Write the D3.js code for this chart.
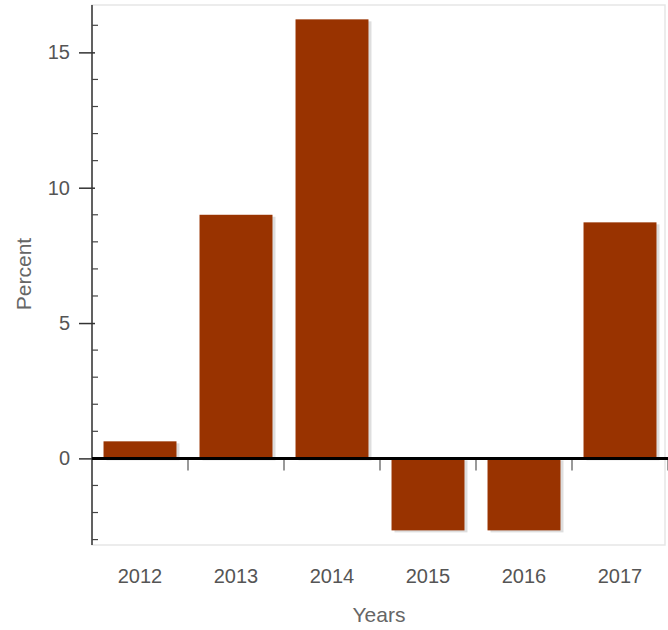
<!DOCTYPE html>
<html>
<head>
<meta charset="utf-8">
<script src="https://cdn.jsdelivr.net/npm/d3@7"></script>
<style>
  html, body { margin: 0; padding: 0; background: #fff; }
  svg { display: block; font-family: "Liberation Sans", Arial, sans-serif; }
</style>
</head>
<body>
<svg id="chart" width="668" height="630"></svg>
<script>
const years = ["2012", "2013", "2014", "2015", "2016", "2017"];
const percent = [0.63, 9.0, 16.22, -2.66, -2.66, 8.72];
const yMajorTicks = [0, 5, 10, 15];
const yMinorTicks = [-3, -2, -1, 1, 2, 3, 4, 6, 7, 8, 9, 11, 12, 13, 14, 16];

(function () {
const svg = d3.select("#chart");
const pLeft = 92, pRight = 668, pTop = 5, pBottom = 545;

const x = d3.scaleBand().domain(years).range([pLeft, pRight]).paddingInner(0.24).paddingOuter(0.12);
const y = d3.scaleLinear().domain([-3.2, 16.75]).range([pBottom, pTop]);

// plot border
svg.append("rect")
  .attr("x", pLeft).attr("y", pTop)
  .attr("width", pRight - pLeft - 3).attr("height", pBottom - pTop)
  .attr("fill", "none").attr("stroke", "#e6e6e6").attr("stroke-width", 1.5);

// bar shadows
svg.append("g").selectAll("rect").data(years).join("rect")
  .attr("x", d => x(d) + 3)
  .attr("y", (d, i) => Math.min(y(percent[i]), y(0)) + 2)
  .attr("width", x.bandwidth())
  .attr("height", (d, i) => Math.abs(y(percent[i]) - y(0)))
  .attr("fill", "#d0d0d0").attr("opacity", 0.7);

// bars
svg.append("g").selectAll("rect").data(years).join("rect")
  .attr("x", d => x(d))
  .attr("y", (d, i) => Math.min(y(percent[i]), y(0)))
  .attr("width", x.bandwidth())
  .attr("height", (d, i) => Math.abs(y(percent[i]) - y(0)))
  .attr("fill", "#993300");

// y axis
const yAxis = d3.axisLeft(y).tickValues(yMajorTicks).tickSize(13).tickPadding(9);
const gy = svg.append("g").attr("transform", `translate(${pLeft},0)`).call(yAxis);
gy.select(".domain").remove();
gy.selectAll(".tick line").attr("stroke", "#333").attr("stroke-width", 1.5).attr("x2", -13).attr("x1", 3);
gy.selectAll(".tick text").attr("fill", "#555").attr("font-size", 20).attr("font-family", "Liberation Sans, Arial, sans-serif");
svg.append("line").attr("x1", pLeft).attr("x2", pLeft).attr("y1", pTop).attr("y2", pBottom)
  .attr("stroke", "#333").attr("stroke-width", 1.5);

// minor ticks
svg.append("g").selectAll("line").data(yMinorTicks).join("line")
  .attr("x1", pLeft).attr("x2", pLeft + 6)
  .attr("y1", d => y(d)).attr("y2", d => y(d))
  .attr("stroke", "#444").attr("stroke-width", 1.2);

// x axis band boundary ticks
const bounds = years.map(d => x(d) + x.bandwidth() + x.step() * x.paddingInner() / 2);
svg.append("g").selectAll("line").data(bounds).join("line")
  .attr("x1", d => d).attr("x2", d => d)
  .attr("y1", y(0)).attr("y2", y(0) + 12)
  .attr("stroke", "#555").attr("stroke-width", 1.2);

// zero line
svg.append("line").attr("x1", pLeft).attr("x2", pRight).attr("y1", y(0)).attr("y2", y(0))
  .attr("stroke", "#000").attr("stroke-width", 3);

// x labels
const xAxis = d3.axisBottom(x).tickSize(0).tickPadding(0);
const gx = svg.append("g").attr("transform", `translate(0,${pBottom + 38})`).call(xAxis);
gx.select(".domain").remove();
gx.selectAll(".tick text").attr("fill", "#555").attr("font-size", 20).attr("dy", 0)
  .attr("font-family", "Liberation Sans, Arial, sans-serif");

// axis titles
svg.append("text").attr("x", 379).attr("y", 622).attr("text-anchor", "middle")
  .attr("fill", "#666").attr("font-size", 21).text("Years");
svg.append("text").attr("transform", "translate(31,274) rotate(-90)").attr("text-anchor", "middle")
  .attr("fill", "#666").attr("font-size", 21).text("Percent");
})();
</script>
</body>
</html>
